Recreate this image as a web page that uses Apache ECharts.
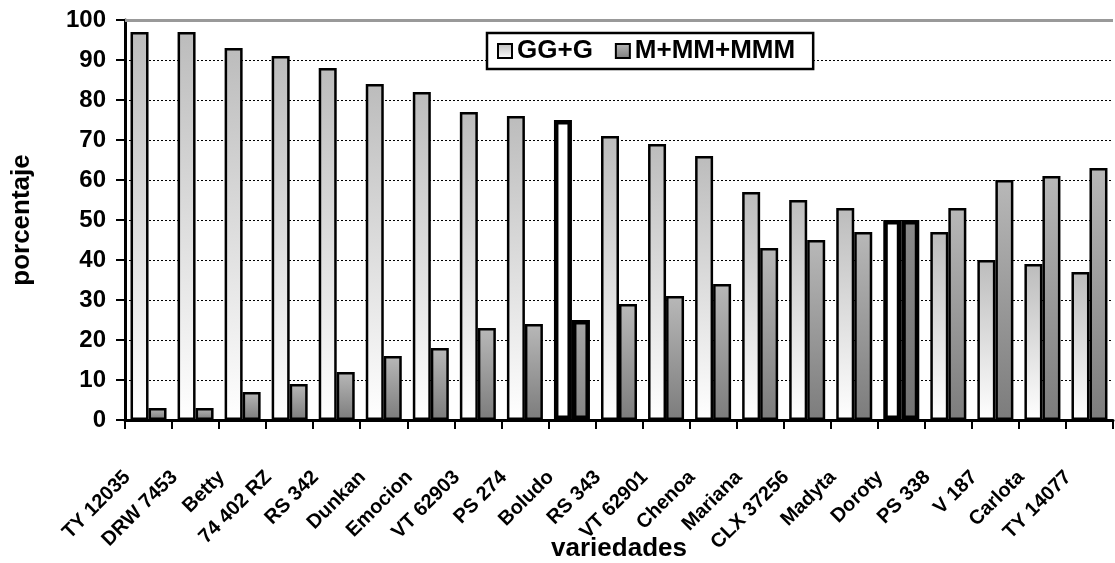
<!DOCTYPE html>
<html>
<head>
<meta charset="utf-8">
<script src="https://cdn.jsdelivr.net/npm/echarts@6/dist/echarts.min.js"></script>
<style>
html,body{margin:0;padding:0;background:#fff;}
#c{width:1115px;height:563px;}
</style>
</head>
<body>
<div id="c"></div>
<script>
const categories = ['TY 12035','DRW 7453','Betty','74 402 RZ','RS 342','Dunkan','Emocion','VT 62903','PS 274','Boludo','RS 343','VT 62901','Chenoa','Mariana','CLX 37256','Madyta','Doroty','PS 338','V 187','Carlota','TY 14077'];
const ggG = [97,97,93,91,88,84,82,77,76,75,71,69,66,57,55,53,50,47,40,39,37];
const mMM = [3,3,7,9,12,16,18,23,24,25,29,31,34,43,45,47,50,53,60,61,63];
const highlighted = ['Boludo','Doroty'];
const yTicks = [0,10,20,30,40,50,60,70,80,90,100];

const FONT = "'Liberation Sans', Arial, sans-serif";
function grad(top, bottom){
  return {type:'linear',x:0,y:0,x2:0,y2:1,colorStops:[{offset:0,color:top},{offset:1,color:bottom}]};
}
const ggColor = grad('#bcbcbc','#ffffff');
const mColor = grad('#b8b8b8','#7c7c7c');

const ggData = ggG.map((v,i)=>{
  if (highlighted.indexOf(categories[i])>=0) {
    return {value:v,itemStyle:{color:'#ffffff',borderWidth:4.5}};
  }
  return v;
});
const mData = mMM.map((v,i)=>{
  if (categories[i]==='Boludo') return {value:v,itemStyle:{color:grad('#a6a6a6','#848484'),borderWidth:4.5}};
  if (categories[i]==='Doroty') return {value:v,itemStyle:{color:grad('#8a8a8a','#727272'),borderWidth:4.5}};
  return v;
});

const chart = echarts.init(document.getElementById('c'), null, {renderer:'canvas'});
chart.setOption({
  animation:false,
  backgroundColor:'#ffffff',
  textStyle:{fontFamily:FONT},
  grid:{left:125,right:2,top:20,bottom:143,containLabel:false,outerBoundsMode:'none'},
  legend:{
    left:487, top:33,
    padding:[5,18,5,10],
    itemWidth:14, itemHeight:14, itemGap:22,
    icon:'rect',
    borderColor:'#000', borderWidth:2.5, backgroundColor:'#fff',
    textStyle:{fontFamily:FONT,fontSize:26,fontWeight:'bold',color:'#000'},
    data:['GG+G','M+MM+MMM']
  },
  xAxis:{
    type:'category',
    data:categories,
    name:'variedades',
    nameLocation:'middle',
    nameGap:116,
    nameMoveOverlap:false,
    nameTextStyle:{fontFamily:FONT,fontSize:26,fontWeight:'bold',color:'#000'},
    axisLine:{lineStyle:{color:'#000',width:3}},
    axisTick:{show:true,length:9,lineStyle:{color:'#000',width:2}},
    axisLabel:{interval:0,rotate:45,margin:33,padding:[0,30,0,0],fontFamily:FONT,fontSize:20,fontWeight:'bold',color:'#000'},
    splitLine:{show:false}
  },
  yAxis:{
    type:'value',
    min:0,max:100,interval:10,
    name:'porcentaje',
    nameLocation:'middle',
    nameGap:90,
    nameMoveOverlap:false,
    nameTextStyle:{fontFamily:FONT,fontSize:26,fontWeight:'bold',color:'#000'},
    axisLine:{show:true,lineStyle:{color:'#000',width:3}},
    axisTick:{show:true,length:9,lineStyle:{color:'#000',width:2}},
    axisLabel:{margin:19,fontFamily:FONT,fontSize:24,fontWeight:'bold',color:'#000',
      formatter:function(v){return yTicks.indexOf(v)>=0?String(v):'';}},
    splitLine:{show:true,lineStyle:{color:'#000',width:1,type:[2,2]}}
  },
  series:[
    {
      name:'GG+G', type:'bar', data:ggData,
      barWidth:18, barGap:'0%',
      itemStyle:{color:ggColor,borderColor:'#000',borderWidth:2.5},
      markLine:{silent:true,symbol:'none',label:{show:false},
        lineStyle:{color:'#999',width:3,type:'solid'},data:[{yAxis:100}]}
    },
    {
      name:'M+MM+MMM', type:'bar', data:mData,
      barWidth:18, barGap:'0%',
      itemStyle:{color:mColor,borderColor:'#000',borderWidth:2.5}
    }
  ]
});
</script>
</body>
</html>
